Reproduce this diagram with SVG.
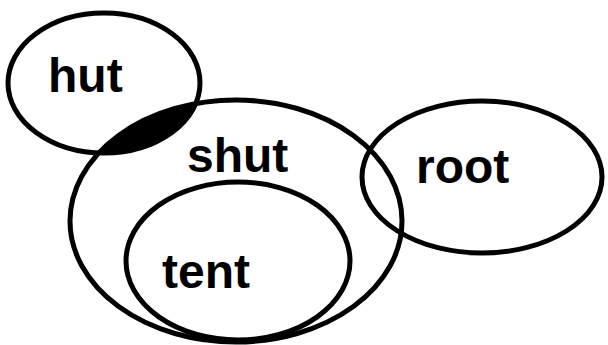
<svg xmlns="http://www.w3.org/2000/svg" width="608" height="345" viewBox="0 0 608 345">
<style>
.e{fill:none;stroke:#000;stroke-width:5}
.t{font-family:"Liberation Sans",Arial,sans-serif;font-weight:bold;font-size:48px;fill:#000}
</style>
<defs>
<clipPath id="hutClip"><ellipse cx="104" cy="83" rx="96" ry="70"/></clipPath>
</defs>
<rect width="608" height="345" fill="#fff"/>
<g id="overlap">
<ellipse cx="236" cy="221" rx="166" ry="121" fill="#000" clip-path="url(#hutClip)"/>
</g>
<g id="connectors"></g>
<g id="hut">
<ellipse class="e" cx="104" cy="83" rx="96" ry="70"/>
<text class="t" x="48" y="92">hut</text>
</g>
<g id="shut">
<ellipse class="e" cx="236" cy="221" rx="166" ry="121"/>
<text class="t" x="187" y="172">shut</text>
</g>
<g id="tent">
<ellipse class="e" cx="238" cy="261" rx="112" ry="79"/>
<text class="t" x="162" y="288">tent</text>
</g>
<g id="root">
<ellipse class="e" cx="482" cy="177" rx="120" ry="76"/>
<text class="t" x="416" y="183">root</text>
</g>
</svg>
